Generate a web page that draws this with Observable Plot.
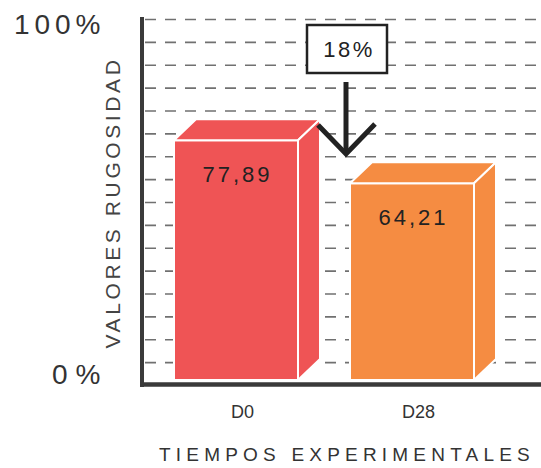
<!DOCTYPE html>
<html>
<head>
<meta charset="utf-8">
<script src="https://cdn.jsdelivr.net/npm/d3@7"></script>
<script src="https://cdn.jsdelivr.net/npm/@observablehq/plot@0.6"></script>
<style>
  html, body { margin: 0; padding: 0; background: #fff; }
  #chart svg { display: block; }
  .bar-values text { letter-spacing: 3px; }
  .y-ticks text { letter-spacing: 5px; }
  .y-ticks-zero text { letter-spacing: 8px; }
  .y-label text { letter-spacing: 3.6px; }
  .x-label text { letter-spacing: 5.2px; }
  .x-ticks text { letter-spacing: 0px; }
  .annot text { letter-spacing: 2.5px; }
</style>
</head>
<body>
<div id="chart"></div>
<script>
// ---- data ----
const categories = ["D0", "D28"];
const values = [77.89, 64.21];
const barColors = ["#EF5455", "#F58C42"];
const yDomain = [0, 116.5];
const yTickValues = [0, 116.5];
const yTickLabels = ["0%", "100%"];
const gridCount = 16;
const yLabel = "VALORES RUGOSIDAD";
const xLabel = "TIEMPOS EXPERIMENTALES";

const data = categories.map((t, i) => ({t, v: values[i]}));
const yTicks = yTickValues.map((v, i) => ({v, label: yTickLabels[i]}));
const gridValues = d3.range(1, gridCount + 1).map(k => yDomain[1] * k / gridCount);
const changePct = Math.round((values[0] - values[1]) / values[0] * 100);
const fmt = v => v.toFixed(2).replace(".", ",");

const DEPTH_X = 22, DEPTH_Y = 21, GAP = 5;

function bandwidthOf(sx) {
  return typeof sx.bandwidth === "function" ? sx.bandwidth() : sx.bandwidth;
}

// 3D top and side faces, positioned from the Plot scales
const faces = (index, scales, values_, dims) => {
  const sx = scales.x, sy = scales.y, color = scales.color;
  const bw = bandwidthOf(sx);
  const g = d3.create("svg:g").attr("aria-label", "bar depth");
  data.forEach(d => {
    const x0 = sx(d.t), x1 = x0 + bw;
    const yt = sy(d.v), yb = sy(0) - GAP;
    const fill = color ? color(d.t) : barColors[categories.indexOf(d.t)];
    const top = [[x0, yt], [x0 + DEPTH_X, yt - DEPTH_Y], [x1 + DEPTH_X, yt - DEPTH_Y], [x1, yt]];
    const side = [[x1, yt], [x1 + DEPTH_X, yt - DEPTH_Y], [x1 + DEPTH_X, yb - DEPTH_Y], [x1, yb]];
    [top, side].forEach(p => {
      g.append("path")
        .attr("d", "M" + p.map(q => q.join(",")).join("L") + "Z")
        .attr("fill", fill)
        .attr("stroke", "white")
        .attr("stroke-width", 2)
        .attr("stroke-linejoin", "round");
    });
  });
  return g.node();
};

// vertical y axis line
const yAxisLine = (index, scales, values_, dims) => {
  const x = dims.marginLeft;
  return d3.create("svg:line")
    .attr("x1", x).attr("x2", x)
    .attr("y1", dims.marginTop - 2)
    .attr("y2", dims.height - dims.marginBottom + 2)
    .attr("stroke", "#3a3a3a")
    .attr("stroke-width", 4)
    .node();
};

// annotation: boxed percentage and downward arrow between the bars
const annotation = (index, scales, values_, dims) => {
  const sx = scales.x;
  const ax = sx(categories[1]) - 4;
  const g = d3.create("svg:g").attr("class", "annot");
  const boxTop = dims.marginTop + 6, boxH = 48, boxW = 80;
  g.append("rect")
    .attr("x", ax + 1 - boxW / 2).attr("y", boxTop)
    .attr("width", boxW).attr("height", boxH)
    .attr("fill", "white").attr("stroke", "#222").attr("stroke-width", 2.5);
  g.append("text")
    .attr("x", ax + 3).attr("y", boxTop + boxH / 2)
    .attr("dy", "0.36em")
    .attr("text-anchor", "middle")
    .attr("font-size", 22)
    .attr("fill", "#222")
    .text(changePct + "%");
  const yStart = boxTop + boxH + 9, yEnd = yStart + 72;
  g.append("line")
    .attr("x1", ax).attr("x2", ax).attr("y1", yStart).attr("y2", yEnd - 2)
    .attr("stroke", "#222").attr("stroke-width", 5);
  g.append("path")
    .attr("d", `M${ax - 28},${yEnd - 29}L${ax},${yEnd}L${ax + 29},${yEnd - 30}`)
    .attr("fill", "none").attr("stroke", "#222").attr("stroke-width", 5);
  return g.node();
};

const chart = Plot.plot({
  width: 541,
  height: 468,
  marginLeft: 142,
  marginRight: 0,
  marginTop: 19,
  marginBottom: 83,
  style: {fontFamily: "'Liberation Sans', Arial, sans-serif", background: "white", overflow: "visible"},
  x: {type: "band", domain: categories, range: [173, 474], paddingInner: 0.2975, paddingOuter: 0, axis: null},
  y: {domain: yDomain, axis: null},
  color: {domain: categories, range: barColors},
  marks: [
    Plot.ruleY(gridValues, {stroke: "#707070", strokeWidth: 1.6, strokeDasharray: "11,9", insetLeft: 3}),
    Plot.barY(data, {x: "t", y: "v", fill: "t", insetBottom: GAP, stroke: "white", strokeWidth: 2}),
    faces,
    Plot.ruleY([0], {stroke: "#3a3a3a", strokeWidth: 4.5, dy: -1, insetLeft: -2}),
    yAxisLine,
    Plot.text(data, {x: "t", y: "v", text: d => fmt(d.v), dy: 34, dx: 1, fontSize: 22, fill: "#222", className: "bar-values"}),
    Plot.text(data, {x: "t", y: 0, text: "t", dy: 27, dx: 6, fontSize: 18, fill: "#333", className: "x-ticks"}),
    Plot.text(yTicks, {filter: d => d.v === yDomain[1], y: "v", text: "label", frameAnchor: "left", textAnchor: "end", dx: -37, dy: 6, fontSize: 28, fill: "#333", className: "y-ticks"}),
    Plot.text(yTicks, {filter: d => d.v === yDomain[0], y: "v", text: "label", frameAnchor: "left", textAnchor: "end", dx: -34, dy: -10, fontSize: 28, fill: "#333", className: "y-ticks-zero"}),
    Plot.text([xLabel], {text: d => d, frameAnchor: "bottom", textAnchor: "middle", dy: 75, dx: 5, fontSize: 19, fill: "#333", className: "x-label"}),
    Plot.text([yLabel], {text: d => d, frameAnchor: "left", textAnchor: "middle", rotate: -90, dx: -29.5, fontSize: 21, fill: "#444", className: "y-label"}),
    annotation
  ]
});

document.getElementById("chart").appendChild(chart);
</script>
</body>
</html>
